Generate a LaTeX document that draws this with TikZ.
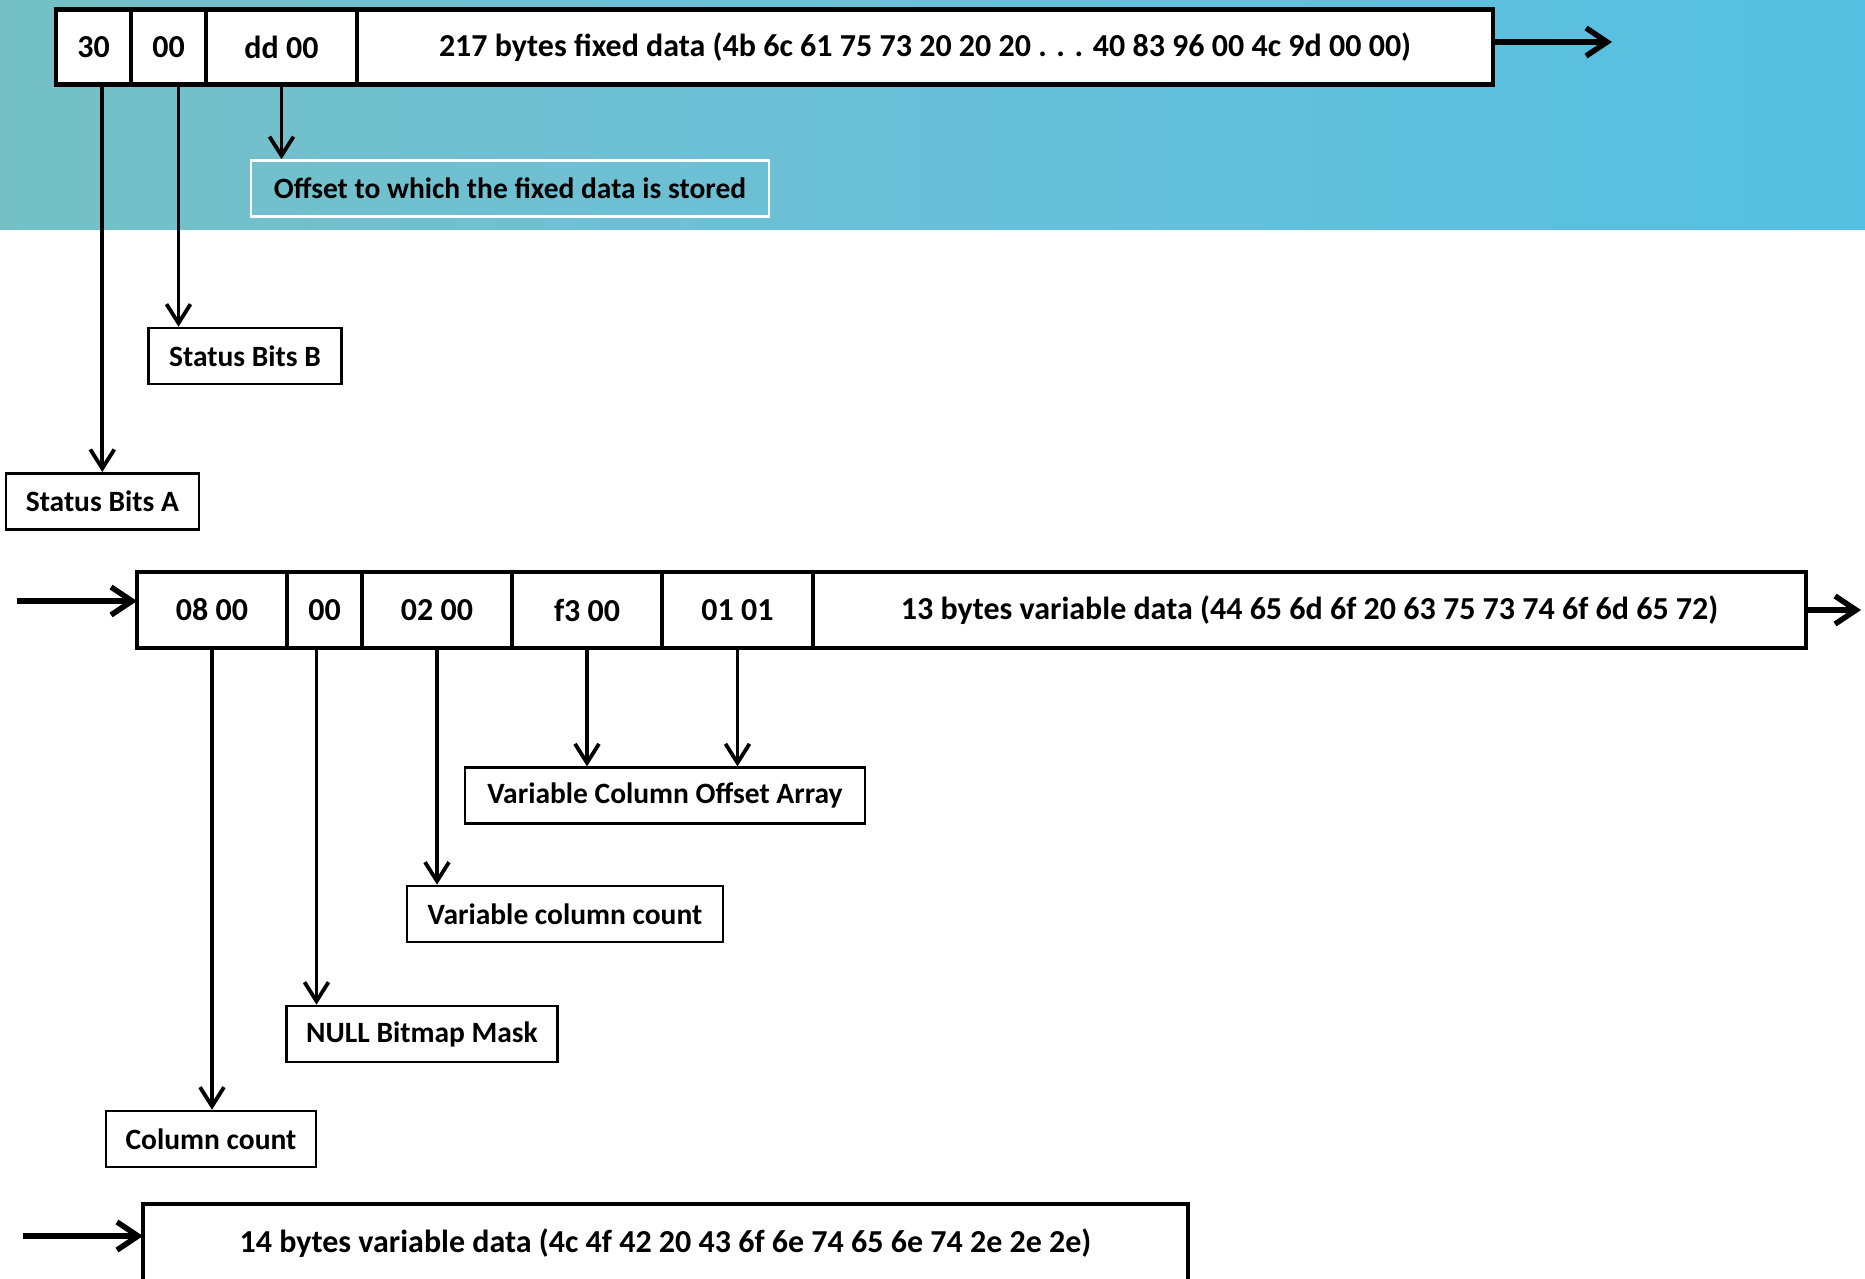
\documentclass[tikz,border=0pt]{standalone}
\usepackage{fontspec}
\setmainfont{Carlito}
\usetikzlibrary{arrows.meta}
\usetikzlibrary{positioning}

\newcommand\rowfont{\fontsize{32}{38}\selectfont\bfseries}
\newcommand\tagfont{\fontsize{29.5}{35}\selectfont\bfseries}

\definecolor{bandleft}{HTML}{7DBFB1}
\definecolor{bandmid}{HTML}{6CC0D6}
\definecolor{bandright}{HTML}{42C0EB}
\pgfdeclarehorizontalshading{band}{100bp}{color(0bp)=(bandleft); color(45bp)=(bandmid); color(100bp)=(bandright)}

\tikzset{
  cell/.style={draw, line width=4.5pt, minimum height=75pt, inner sep=0pt, outer sep=0pt, fill=white, font=\rowfont},
  tag/.style={draw, line width=2.6pt, minimum height=56pt, inner sep=0pt, font=\tagfont},
  pointer/.style={line width=3.8pt, -{Straight Barb[length=19pt,width=24pt]}},
  flow/.style={line width=5.5pt, -{Straight Barb[length=21pt,width=28pt]}}
}

\begin{document}
\begin{tikzpicture}[x=1pt, y=-1pt, node distance=0pt]
    \useasboundingbox (0,0) rectangle (1865,1278);
    \clip (0,0) rectangle (1865,1278);
    \fill[white] (0,0) rectangle (1865,1278);
    \shade[shading=band] (0,0) rectangle (1865,229);

    % fixed length part of the record
    \node[cell, minimum width=75pt] (c30) at (93.5,47) {30};
    \node[cell, minimum width=75pt, right=of c30] (c00) {00};
    \node[cell, minimum width=151pt, right=of c00] (cdd) {dd 00};
    \node[cell, minimum width=1136pt, right=of cdd] (cfix) {217 bytes fixed data (4b 6c 61 75 73 20 20 20 . . . 40 83 96 00 4c 9d 00 00)};
    \coordinate (topout) at (1612,42);

    \node[tag, draw=white, minimum width=518pt] (offset) at (510,188.5) {Offset to which the fixed data is stored};
    \node[tag, minimum width=193pt] (sbB) at (245,356) {Status Bits B};
    \node[tag, minimum width=193pt] (sbA) at (102.3,501.3) {Status Bits A};

    % variable length part
    \coordinate (midin) at (17,601);
    \node[cell, minimum width=150pt, minimum height=76pt] (c0800) at (212,610) {08 00};
    \node[cell, minimum width=75pt, minimum height=76pt, right=of c0800] (c00b) {00};
    \node[cell, minimum width=150pt, minimum height=76pt, right=of c00b] (c0200) {02 00};
    \node[cell, minimum width=150pt, minimum height=76pt, right=of c0200] (cf300) {f3 00};
    \node[cell, minimum width=151pt, minimum height=76pt, right=of cf300] (c0101) {01 01};
    \node[cell, minimum width=993pt, minimum height=76pt, right=of c0101] (cvar) {13 bytes variable data (44 65 6d 6f 20 63 75 73 74 6f 6d 65 72)};
    \coordinate (midout) at (1861,610);

    \node[tag, minimum width=400pt] (vcoa) at (665,795.7) {Variable Column Offset Array};
    \node[tag, minimum width=316pt] (vcc) at (565,914) {Variable column count};
    \node[tag, minimum width=271pt] (nullmask) at (422,1034) {NULL Bitmap Mask};
    \node[tag, minimum width=210pt] (colcount) at (211,1139) {Column count};

    \coordinate (botin) at (23,1236);
    \node[cell, minimum width=1045pt, minimum height=78pt] (cvar2) at (665.5,1243) {14 bytes variable data (4c 4f 42 20 43 6f 6e 74 65 6e 74 2e 2e 2e)};

    \draw[flow] (cfix.east |- topout) -- (topout);
    \draw[flow] (midin) -- (midin -| c0800.west);
    \draw[flow] (cvar.east) -- (midout);
    \draw[flow] (botin) -- (botin -| cvar2.west);

    \draw[pointer] (sbA.north |- c30.south) -- (sbA.north);
    \draw[pointer] ([xshift=10pt]c00.south) -- ([xshift=10pt]c00.south |- sbB.north);
    \draw[pointer] (cdd.south) -- (cdd.south |- offset.north);

    \draw[pointer] (c0800.south) -- (c0800.south |- colcount.north);
    \draw[pointer] ([xshift=-8pt]c00b.south) -- ([xshift=-8pt]c00b.south |- nullmask.north);
    \draw[pointer] (c0200.south) -- (c0200.south |- vcc.north);
    \draw[pointer] (cf300.south) -- (cf300.south |- vcoa.north);
    \draw[pointer] (c0101.south) -- (c0101.south |- vcoa.north);
\end{tikzpicture}
\end{document}
